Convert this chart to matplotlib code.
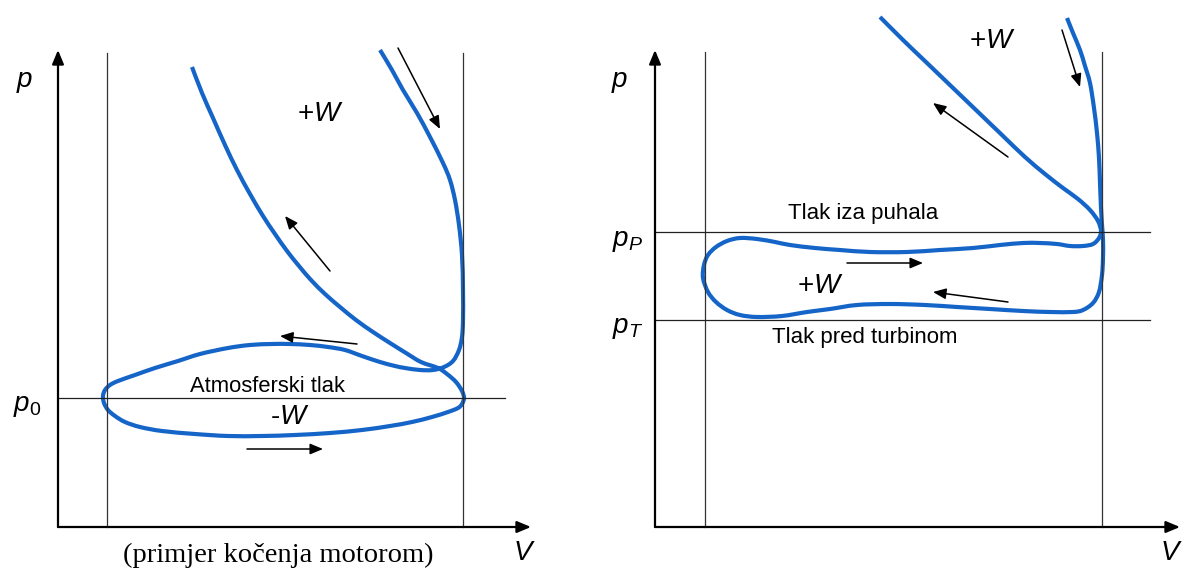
import matplotlib.pyplot as plt
import numpy as np
from matplotlib.path import Path
from matplotlib.patches import PathPatch

plt.rcParams['font.family'] = ['Liberation Sans', 'DejaVu Sans']
plt.rcParams['mathtext.fontset'] = 'custom'
plt.rcParams['mathtext.rm'] = 'Liberation Sans'
plt.rcParams['mathtext.it'] = 'Liberation Sans:italic'

# curve readings (picture pixels: V to the right, p downwards)
# left diagram: engine braking, one closed path with a crossing
left_V = [380, 392, 403, 417, 430, 443, 450, 455, 459, 462, 463, 463, 462, 459, 453, 444, 433,
          420, 405, 395, 380, 362, 345, 328, 310, 290, 272, 250, 228, 200, 178, 155, 135, 118,
          110, 105, 103, 104, 108, 115, 125, 140, 162, 195, 228, 262, 295, 330, 362, 390, 412,
          432, 448, 458, 462, 464, 462, 456, 447, 438, 421, 406, 390, 373, 356, 340, 325, 311,
          299, 287, 275, 263, 250, 237, 225, 213, 202, 192]
left_p = [50, 70, 90, 113, 137, 163, 180, 200, 225, 255, 290, 320, 337, 350, 361, 367, 370,
          370, 368, 366, 362, 356, 350, 347, 345, 344, 344, 345, 348, 354, 361, 368, 375, 381,
          385, 390, 396, 403, 410, 416, 422, 427, 431, 434, 436, 436, 435, 433, 430, 426, 422,
          417, 412, 408, 404, 398, 391, 382, 374, 368, 362, 353, 343, 332, 320, 307, 294, 280,
          266, 251, 234, 216, 194, 170, 145, 118, 93, 67]

# right diagram: turbocharged, loop between pT and pP
right_V = [1067, 1073, 1080, 1085, 1090, 1094, 1097, 1099, 1100, 1101, 1102, 1103, 1103, 1102,
           1099, 1093, 1083, 1073, 1050, 1023, 990, 957, 925, 890, 857, 830, 807, 782, 757, 740,
           727, 716, 708, 703, 704, 708, 716, 727, 740, 757, 775, 790, 815, 840, 870, 907, 940,
           973, 1000, 1023, 1040, 1057, 1070, 1083, 1093, 1099, 1101, 1098, 1090, 1078, 1063,
           1045, 1025, 1002, 977, 952, 927, 903, 880]
right_p = [18, 33, 50, 66, 83, 108, 133, 158, 183, 208, 225, 240, 258, 275, 292, 303, 310, 312,
           312, 311, 309, 307, 305, 304, 305, 309, 312, 316, 317, 315, 310, 302, 292, 278, 265,
           255, 247, 241, 238, 239, 242, 245, 248, 250, 252, 252, 250, 248, 245, 243, 243, 244,
           246, 246, 244, 238, 231, 221, 210, 199, 188, 174, 157, 135, 111, 87, 63, 40, 17]

# direction arrows: (tail V, tail p, head V, head p)
left_arrows = [(398, 48, 440, 129), (330, 271, 285, 216), (357, 344, 280, 336), (247, 449, 323, 449)]
right_arrows = [(1062, 30, 1080, 87), (1008, 157, 933, 103), (847, 263, 923, 263), (1008, 302, 933, 292)]

blue = '#1565c8'
fig = plt.figure(figsize=(11.82, 5.71), dpi=100)
ax = fig.add_axes([0, 0, 1, 1])
ax.set_xlim(0, 1182)
ax.set_ylim(571, 0)
ax.axis('off')


def arrow(x0, y0, x1, y1, lw=1.1, scale=13):
    ax.annotate('', xy=(x1, y1), xytext=(x0, y0),
                arrowprops=dict(arrowstyle='-|>,head_length=0.6,head_width=0.25', color='black',
                                lw=lw, mutation_scale=scale, shrinkA=0, shrinkB=0))


def smooth_curve(xs, ys):
    # bezier handles through the read points, drawn by matplotlib's Path
    pts = np.column_stack([xs, ys]).astype(float)
    ext = np.vstack([pts[0], pts, pts[-1]])
    verts = [pts[0]]
    codes = [Path.MOVETO]
    for i in range(len(pts) - 1):
        c1 = ext[i + 1] + (ext[i + 2] - ext[i]) / 6
        c2 = ext[i + 2] - (ext[i + 3] - ext[i + 1]) / 6
        verts += [c1, c2, pts[i + 1]]
        codes += [Path.CURVE4] * 3
    ax.add_patch(PathPatch(Path(verts, codes), fill=False, edgecolor=blue, lw=3.0,
                           joinstyle='round', capstyle='butt'))


# left diagram frame
arrow(58, 527, 58, 50, lw=1.6, scale=14)
arrow(58, 527, 531, 527, lw=1.6, scale=14)
ax.plot([107, 107], [53, 527], color='#333333', lw=0.9)
ax.plot([463, 463], [53, 527], color='#333333', lw=0.9)
ax.plot([58, 505], [398, 398], color='#222222', lw=0.9)

# right diagram frame
arrow(655, 527, 655, 50, lw=1.6, scale=14)
arrow(655, 527, 1180, 527, lw=1.6, scale=14)
ax.plot([705, 705], [52, 527], color='#333333', lw=0.9)
ax.plot([1102, 1102], [52, 527], color='#333333', lw=0.9)
ax.plot([655, 1150], [232, 232], color='#222222', lw=0.9)
ax.plot([655, 1150], [320, 320], color='#222222', lw=0.9)

smooth_curve(left_V, left_p)
smooth_curve(right_V, right_p)

for a in left_arrows + right_arrows:
    arrow(*a)

# labels
kw = dict(ha='center', va='center')
ax.text(25, 82, '$p$', fontsize=20, **kw)
ax.text(27, 406, '$p_0$', fontsize=20, **kw)
ax.text(524, 553, '$V$', fontsize=20, **kw)
ax.text(320, 114, '+$W$', fontsize=20, **kw)
ax.text(267, 386, 'Atmosferski tlak', fontsize=15.8, **kw)
ax.text(290, 417, '-$W$', fontsize=20, **kw)
ax.text(278, 555, '(primjer kočenja motorom)', fontsize=20.5, family='Liberation Serif', **kw)

ax.text(620, 82, '$p$', fontsize=20, **kw)
ax.text(628, 241, '$p_P$', fontsize=20, **kw)
ax.text(628, 328, '$p_T$', fontsize=20, **kw)
ax.text(1171, 553, '$V$', fontsize=20, **kw)
ax.text(992, 41, '+$W$', fontsize=20, **kw)
ax.text(820, 286, '+$W$', fontsize=20, **kw)
ax.text(863, 213, 'Tlak iza puhala', fontsize=16, **kw)
ax.text(865, 337, 'Tlak pred turbinom', fontsize=16, **kw)

fig.savefig('out.png', dpi=100)
